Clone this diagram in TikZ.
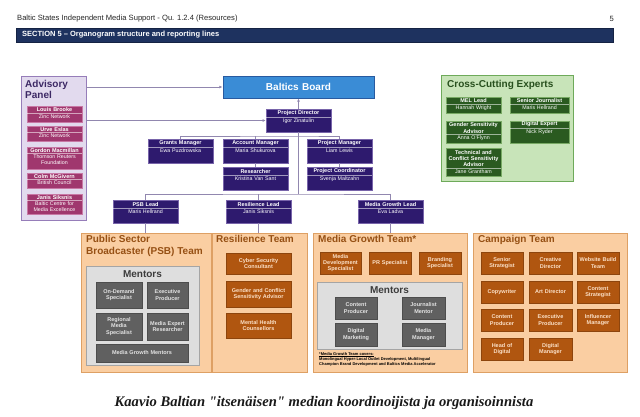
\documentclass[tikz,border=0pt]{standalone}
\usepackage{fontspec}
\setmainfont{Liberation Sans}
\newfontfamily\capfont{Liberation Serif}
\usetikzlibrary{arrows.meta}
\definecolor{purp}{RGB}{46,26,110}
\definecolor{purpb}{RGB}{120,100,170}
\definecolor{advfill}{RGB}{226,218,238}
\definecolor{advdraw}{RGB}{150,125,185}
\definecolor{advtxt}{RGB}{60,40,100}
\definecolor{plum}{RGB}{160,55,110}
\definecolor{plumb}{RGB}{200,120,165}
\definecolor{bbfill}{RGB}{58,140,214}
\definecolor{bbdraw}{RGB}{40,90,160}
\definecolor{gfill}{RGB}{200,228,185}
\definecolor{gdraw}{RGB}{110,170,90}
\definecolor{gtxt}{RGB}{40,80,30}
\definecolor{gbox}{RGB}{42,90,32}
\definecolor{gboxb}{RGB}{120,170,100}
\definecolor{ofill}{RGB}{250,206,162}
\definecolor{odraw}{RGB}{222,160,100}
\definecolor{otxt}{RGB}{150,80,20}
\definecolor{brn}{RGB}{176,86,16}
\definecolor{brntxt}{RGB}{252,225,200}
\definecolor{mfill}{RGB}{222,222,222}
\definecolor{mdraw}{RGB}{165,165,165}
\definecolor{mtxt}{RGB}{60,60,60}
\definecolor{gry}{RGB}{96,96,96}
\definecolor{grytxt}{RGB}{228,228,228}
\definecolor{conn}{RGB}{145,135,175}
\definecolor{barc}{RGB}{30,50,95}
\newcommand\fs[2]{\fontsize{#1}{#2}\selectfont}
\newcommand\bx[7]{%
 \pgfmathsetmacro\myw{#4-#2}%
 \pgfmathsetmacro\myh{#5-#3}%
 \pgfmathsetmacro\mycx{(#2+#4)/2}%
 \pgfmathsetmacro\mycy{(#3+#5)/2}%
 \node[#6, minimum width=\myw pt, minimum height=\myh pt, text width=\myw pt] (#1) at (\mycx,\mycy) {#7};}
\newcommand\tbox[9]{%
 \bx{#1}{#2}{#3}{#4}{#5}{#6}{}%
 \pgfmathsetmacro\mysy{#3+#7}%
 \node[boxttl, text width=\myw pt, anchor=south] (#1t) at (\mycx,\mysy) {#8};%
 \draw[sepl] (#2,\mysy) -- (#4,\mysy);%
 \node[boxsub, text width=\myw pt, anchor=north] (#1s) at (\mycx,\mysy) {#9};}
\begin{document}
\begin{tikzpicture}[x=1pt,y=-1pt,
 every node/.style={inner sep=0pt, align=center},
 boxttl/.style={inner ysep=0.9pt, text=white, font=\fs{5.5}{6.4}\bfseries},
 boxsub/.style={inner ysep=1pt, text=white, font=\fs{5.3}{6.2}},
 sepl/.style={draw=white, draw opacity=0.55, line width=0.4pt},
 pbox/.style={fill=purp, draw=purpb, line width=0.4pt},
 abox/.style={fill=plum, draw=plumb, line width=0.4pt},
 gbx/.style={fill=gbox, draw=gboxb, line width=0.4pt},
 brnbox/.style={fill=brn, draw=brn!80!black, line width=0.3pt, text=brntxt, font=\fs{5.5}{6.4}\bfseries},
 grybox/.style={fill=gry, draw=gry!80!black, line width=0.3pt, text=grytxt, font=\fs{5.5}{6.4}\bfseries},
 team/.style={fill=ofill, draw=odraw, line width=0.8pt},
 teamttl/.style={anchor=north west, align=left, text=otxt, font=\fs{10}{12}\bfseries},
 ment/.style={fill=mfill, draw=mdraw, line width=0.6pt},
 mentttl/.style={text=mtxt, font=\fs{10}{12}\bfseries},
 cl/.style={draw=conn, line width=0.75pt},
 arr/.style={cl, -{Latex[length=3.2pt,width=2.8pt]}}
]
\useasboundingbox (0,0) rectangle (640,416);
\fill[white] (0,0) rectangle (640,416);
% header
\node[anchor=west, font=\fs{7.6}{9}, text=black!85] (hdr) at (17,19) {Baltic States Independent Media Support - Qu. 1.2.4 (Resources)};
\node[anchor=east, font=\fs{7.6}{9}, text=black!85] (pg) at (614,19) {5};
\bx{bar}{16}{28}{613}{42}{fill=barc, draw=barc!70!black, line width=0.5pt}{}
\node[anchor=west, font=\fs{7.5}{9}\bfseries, text=white] (sec) at (22,35) {SECTION 5 – Organogram structure and reporting lines};
% advisory panel
\bx{adv}{21}{76}{86}{220}{fill=advfill, draw=advdraw, line width=0.8pt}{}
\node[anchor=north west, align=left, text=advtxt, font=\fs{10}{11}\bfseries] (advt) at (25,80.5) {Advisory\\Panel};
\tbox{a1}{27}{106}{82}{122}{abox}{7}{Louis Brooke}{Zinc Network}
\tbox{a2}{27}{126}{82}{141}{abox}{6.5}{Urve Eslas}{Zinc Network}
\tbox{a3}{27}{147}{82}{169}{abox}{6.5}{Gordon Macmillan}{Thomson Reuters\\Foundation}
\tbox{a4}{27}{173}{82}{188}{abox}{6.5}{Colm McGivern}{British Council}
\tbox{a5}{27}{194}{82}{214}{abox}{6.5}{Janis Siksnis}{Baltic Centre for\\Media Excellence}
% board
\bx{bb}{223}{76}{374}{98}{fill=bbfill, draw=bbdraw, line width=0.8pt, text=white, font=\fs{10}{12}\bfseries}{Baltics Board}
\tbox{pd}{266}{109}{331}{132}{pbox}{8}{Project Director}{Igor Zinatulin}
\tbox{gm}{148}{139}{213}{163}{pbox}{8}{Grants Manager}{Ewa Puzdrowska}
\tbox{am}{223}{139}{288}{163}{pbox}{8}{Account Manager}{Maria Shukurova}
\tbox{pm}{307}{139}{372}{163}{pbox}{8}{Project Manager}{Liam Lewis}
\tbox{res}{223}{167}{288}{190}{pbox}{8}{Researcher}{Kristina Van Sant}
\tbox{pc}{307}{167}{372}{190}{pbox}{8}{Project Coordinator}{Svenja Maltzahn}
\tbox{psbl}{113}{200}{178}{223}{pbox}{8}{PSB Lead}{Maris Hellrand}
\tbox{rl}{226}{200}{291}{223}{pbox}{8}{Resilience Lead}{Janis Siksnis}
\tbox{mgl}{358}{200}{423}{223}{pbox}{8}{Media Growth Lead}{Eva Ladva}
% cross-cutting
\bx{cce}{441}{75}{573}{181}{fill=gfill, draw=gdraw, line width=0.8pt}{}
\node[anchor=west, text=gtxt, font=\fs{10}{12}\bfseries] (ccet) at (447,85) {Cross-Cutting Experts};
\tbox{mel}{446}{97}{501}{113}{gbx}{7}{MEL Lead}{Hannah Wright}
\tbox{sj}{510}{97}{569}{113}{gbx}{7}{Senior Journalist}{Maris Hellrand}
\tbox{gsa}{446}{121}{501}{143}{gbx}{13.5}{Gender Sensitivity\\Advisor}{Anna O'Flynn}
\tbox{de}{510}{121}{569}{143}{gbx}{7}{Digital Expert}{Nick Ryder}
\tbox{tca}{446}{148}{501}{176}{gbx}{20}{Technical and\\Conflict Sensitivity\\Advisor}{Jane Grantham}
% PSB team
\bx{psbt}{81}{233}{211}{372}{team}{}
\node[teamttl] (psbtt) at (86,235.5) {Public Sector\\Broadcaster (PSB) Team};
\bx{psbm}{86}{266}{199}{365}{ment}{}
\node[mentttl] (psbmt) at (142.5,274.5) {Mentors};
\bx{ods}{96}{282}{142}{308}{grybox}{On-Demand\\Specialist}
\bx{epx}{147}{282}{188}{308}{grybox}{Executive\\Producer}
\bx{rms}{96}{313}{142}{340}{grybox}{Regional\\Media\\Specialist}
\bx{mer}{147}{313}{188}{340}{grybox}{Media Expert\\Researcher}
\bx{mgm}{96}{344}{188}{362}{grybox}{Media Growth Mentors}
% resilience team
\bx{rest}{212}{233}{307}{372}{team}{}
\node[teamttl] (restt) at (216,235.5) {Resilience Team};
\bx{csc}{226}{253}{291}{274}{brnbox}{Cyber Security\\Consultant}
\bx{gcsa}{226}{281}{291}{307}{brnbox}{Gender and Conflict\\Sensitivity Advisor}
\bx{mhc}{226}{313}{291}{338}{brnbox}{Mental Health\\Counsellors}
% media growth team
\bx{mgt}{313}{233}{467}{372}{team}{}
\node[teamttl] (mgtt) at (318,235.5) {Media Growth Team*};
\bx{mds}{320}{252}{361}{274}{brnbox}{Media\\Development\\Specialist}
\bx{prs}{369}{252}{411}{274}{brnbox}{PR Specialist}
\bx{brs}{419}{252}{461}{274}{brnbox}{Branding\\Specialist}
\bx{mgmb}{317}{282}{462}{349}{ment}{}
\node[mentttl] (mgmbt) at (389.5,290) {Mentors};
\bx{cpx}{335}{297}{377}{319}{grybox}{Content\\Producer}
\bx{jmx}{402}{297}{445}{319}{grybox}{Journalist\\Mentor}
\bx{dmx}{335}{323}{377}{346}{grybox}{Digital\\Marketing}
\bx{mmx}{402}{323}{445}{346}{grybox}{Media\\Manager}
\node[anchor=north west, align=left, text=black, font=\fs{4}{5}\bfseries] (fn) at (319,352) {\underline{*Media Growth Team covers:}\\Monolingual Hyper-Local Outlet Development, Multilingual\\Champion Brand Development and Baltics Media Accelerator};
% campaign team
\bx{cpt}{473}{233}{627}{372}{team}{}
\node[teamttl] (cptt) at (478,235.5) {Campaign Team};
\bx{c11}{481}{252}{523}{274}{brnbox}{Senior\\Strategist}
\bx{c12}{529}{252}{572}{274}{brnbox}{Creative\\Director}
\bx{c13}{577}{252}{619}{274}{brnbox}{Website Build\\Team}
\bx{c21}{481}{281}{523}{303}{brnbox}{Copywriter}
\bx{c22}{529}{281}{572}{303}{brnbox}{Art Director}
\bx{c23}{577}{281}{619}{303}{brnbox}{Content\\Strategist}
\bx{c31}{481}{309}{523}{331}{brnbox}{Content\\Producer}
\bx{c32}{529}{309}{572}{331}{brnbox}{Executive\\Producer}
\bx{c33}{577}{309}{619}{331}{brnbox}{Influencer\\Manager}
\bx{c41}{481}{338}{523}{360}{brnbox}{Head of\\Digital}
\bx{c42}{529}{338}{572}{360}{brnbox}{Digital\\Manager}
% connectors
\coordinate (j1) at (298.5,136);
\coordinate (j2) at (298.5,194);
\draw[arr] (adv.east |- bb.west) -- (bb.west);
\draw[arr] (adv.east |- pd.west) -- (pd.west);
\draw[arr] (pd.north) -- (bb.south);
\draw[cl] (pd.south) -- (j2);
\draw[cl] (gm.north) |- (j1) -| (pm.north);
\draw[cl] (am.north) -- (am.north |- j1);
\draw[cl] (am.south) -- (res.north);
\draw[cl] (pm.south) -- (pc.north);
\draw[cl] (psbl.north) |- (j2) -| (mgl.north);
\draw[cl] (rl.north) -- (rl.north |- j2);
\draw[cl] (psbl.south) -- (psbl.south |- psbt.north);
\draw[cl] (rl.south) -- (rl.south |- rest.north);
\draw[cl] (mgl.south) -- (mgl.south |- mgt.north);
% caption
\node[font=\capfont\bfseries\itshape\fs{14.6}{16}, text=black!90] (cap) at (324,403) {Kaavio Baltian "itsenäisen" median koordinoijista ja organisoinnista};
\end{tikzpicture}
\end{document}
